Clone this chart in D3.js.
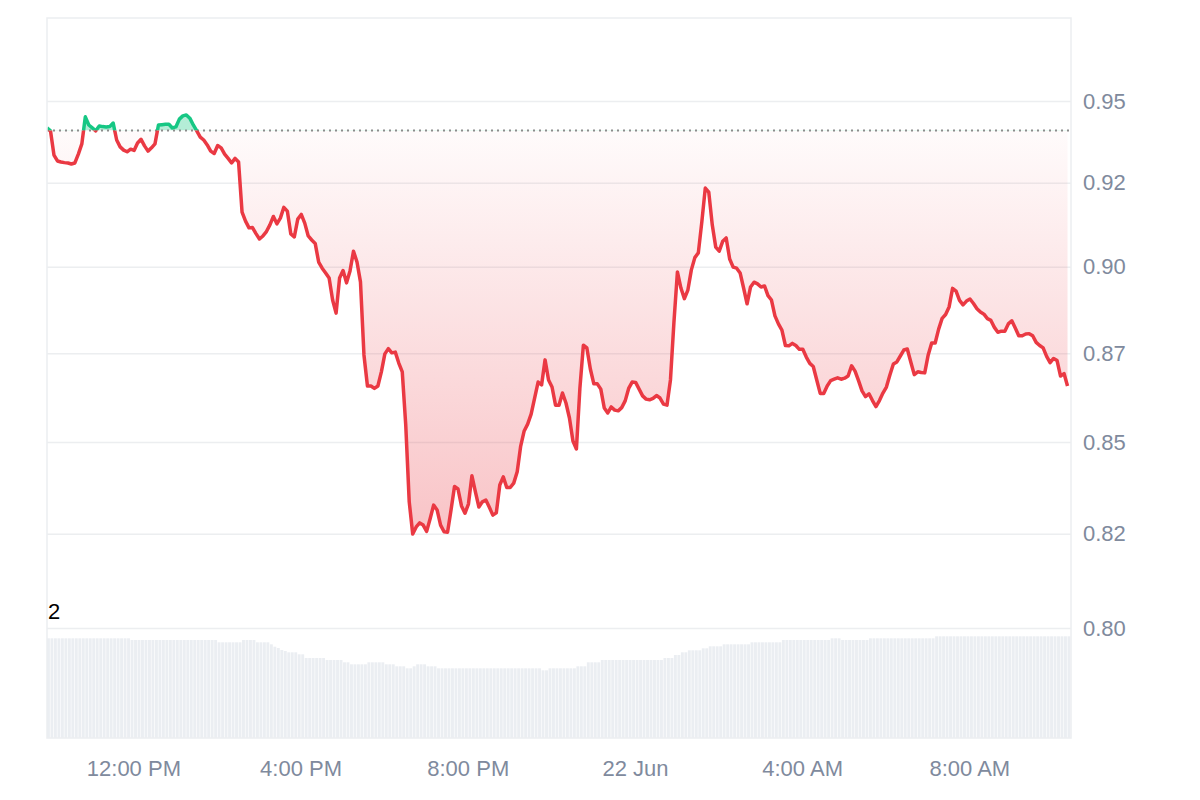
<!DOCTYPE html>
<html>
<head>
<meta charset="utf-8">
<script src="https://cdn.jsdelivr.net/npm/d3@7"></script>
<style>
  body { margin: 0; background: #fff; }
  svg { display: block; font-family: "Liberation Sans", Arial, sans-serif; }
</style>
</head>
<body>
<svg></svg>
<script>
// 5 minute points, 21 Jun 09:56 -> 22 Jun 10:26
var startTime = new Date(2024, 5, 21, 9, 56),
  stepMinutes = 5,
  openPrice = 0.9409; // price 24h ago, dotted reference line

var prices = [
  0.9417, 0.9408, 0.9334, 0.9316, 0.9313, 0.9311, 0.9310, 0.9307, 0.9310, 0.9337,
  0.9368, 0.9451, 0.9426, 0.9417, 0.9408, 0.9423, 0.9421, 0.9420, 0.9421, 0.9432,
  0.9380, 0.9359, 0.9349, 0.9344, 0.9352, 0.9348, 0.9371, 0.9382, 0.9362, 0.9346,
  0.9356, 0.9368, 0.9426, 0.9427, 0.9428, 0.9428, 0.9417, 0.9420, 0.9444, 0.9454,
  0.9457, 0.9447, 0.9426, 0.9408, 0.9389, 0.9380, 0.9365, 0.9346, 0.9339, 0.9363,
  0.9356, 0.9337, 0.9324, 0.9310, 0.9324, 0.9313, 0.9162, 0.9135, 0.9115, 0.9116,
  0.9098, 0.9082, 0.9091, 0.9104, 0.9124, 0.9149, 0.9127, 0.9144, 0.9176, 0.9165,
  0.9097, 0.9088, 0.9141, 0.9155, 0.9129, 0.9091, 0.9079, 0.9069, 0.9014, 0.8996,
  0.8982, 0.8967, 0.8903, 0.8865, 0.8967, 0.8989, 0.8953, 0.8988, 0.9046, 0.9014,
  0.8956, 0.8745, 0.8657, 0.8657, 0.8650, 0.8657, 0.8697, 0.8748, 0.8763, 0.8751,
  0.8753, 0.8722, 0.8697, 0.8547, 0.8336, 0.8249, 0.8268, 0.8279, 0.8273, 0.8256,
  0.8290, 0.8327, 0.8314, 0.8273, 0.8255, 0.8254, 0.8314, 0.8378, 0.8371, 0.8325,
  0.8305, 0.8330, 0.8407, 0.8363, 0.8322, 0.8336, 0.8341, 0.8321, 0.8300, 0.8306,
  0.8382, 0.8404, 0.8375, 0.8375, 0.8387, 0.8418, 0.8489, 0.8531, 0.8550, 0.8578,
  0.8623, 0.8668, 0.8660, 0.8731, 0.8674, 0.8654, 0.8603, 0.8603, 0.8637, 0.8609,
  0.8567, 0.8503, 0.8481, 0.8651, 0.8773, 0.8765, 0.8705, 0.8663, 0.8663, 0.8648,
  0.8595, 0.8581, 0.8598, 0.8589, 0.8587, 0.8596, 0.8615, 0.8650, 0.8668, 0.8667,
  0.8648, 0.8629, 0.8620, 0.8618, 0.8622, 0.8630, 0.8623, 0.8606, 0.8603, 0.8674,
  0.8839, 0.8985, 0.8938, 0.8907, 0.8932, 0.8991, 0.9027, 0.9041, 0.9132, 0.9234,
  0.9222, 0.9124, 0.9058, 0.9046, 0.9075, 0.9085, 0.9023, 0.8999, 0.8996, 0.8982,
  0.8938, 0.8892, 0.8941, 0.8955, 0.8950, 0.8941, 0.8944, 0.8916, 0.8903, 0.8857,
  0.8834, 0.8816, 0.8772, 0.8771, 0.8778, 0.8772, 0.8761, 0.8761, 0.8739, 0.8721,
  0.8712, 0.8674, 0.8636, 0.8636, 0.8657, 0.8672, 0.8676, 0.8680, 0.8676, 0.8679,
  0.8685, 0.8714, 0.8699, 0.8672, 0.8643, 0.8627, 0.8635, 0.8616, 0.8599, 0.8616,
  0.8637, 0.8654, 0.8688, 0.8719, 0.8725, 0.8742, 0.8759, 0.8762, 0.8725, 0.8689,
  0.8697, 0.8695, 0.8694, 0.8745, 0.8779, 0.8779, 0.8819, 0.8850, 0.8861, 0.8883,
  0.8937, 0.8929, 0.8902, 0.8889, 0.8900, 0.8906, 0.8893, 0.8878, 0.8868, 0.8862,
  0.8849, 0.8844, 0.8824, 0.8810, 0.8813, 0.8813, 0.8834, 0.8843, 0.8822, 0.8800,
  0.8800, 0.8805, 0.8806, 0.8800, 0.8781, 0.8772, 0.8765, 0.8741, 0.8723, 0.8735,
  0.8729, 0.8685, 0.8692, 0.8657
];

// rolling volume (relative units)
var volumes = [
  99.7, 99.7, 99.7, 99.7, 99.7, 99.7, 99.7, 99.7, 99.7, 99.7,
  99.7, 99.7, 99.7, 99.7, 99.7, 99.7, 99.7, 99.7, 99.7, 99.7,
  99.7, 99.7, 99.7, 99.7, 98, 98, 98, 98, 98, 98,
  98, 98, 98, 98, 98, 98, 98, 98, 98, 98,
  98, 98, 98, 98, 98, 98, 98, 98, 98, 95.7,
  95.7, 95.7, 95.7, 95.7, 95.7, 95.7, 98, 98, 98, 98,
  95.7, 95.7, 95.7, 95.7, 93.7, 91.3, 90, 88, 87, 85.7,
  85.7, 85.7, 83.7, 83.7, 80, 80, 80, 80, 80, 80,
  78, 78, 78, 78, 78, 75.7, 75.7, 73.7, 73.7, 73.7,
  73.7, 73.7, 75.7, 75.7, 75.7, 75.7, 75.7, 73.7, 73.7, 73.7,
  71.7, 71.7, 71.7, 69.7, 69.7, 71.7, 73.7, 73.7, 73.7, 71.7,
  71.7, 71.7, 69.7, 69.7, 69.7, 69.7, 69.7, 69.7, 69.7, 69.7,
  69.7, 69.7, 69.7, 69.7, 69.7, 69.7, 69.7, 69.7, 69.7, 69.7,
  69.7, 69.7, 69.7, 69.7, 69.7, 69.7, 69.7, 69.7, 69.7, 69.7,
  69.7, 69.7, 67.7, 67.7, 69.7, 69.7, 69.7, 69.7, 69.7, 69.7,
  69.7, 69.7, 71.7, 71.7, 71.7, 75.7, 75.7, 75.7, 75.7, 78,
  78, 78, 78, 78, 78, 78, 78, 78, 78, 78,
  78, 78, 78, 78, 78, 78, 78, 80, 80, 80,
  83, 83, 85.7, 85.7, 87.7, 87.7, 87.7, 87.7, 89.7, 89.7,
  91.7, 91.7, 91.7, 91.7, 93.7, 93.7, 93.7, 93.7, 93.7, 93.7,
  93.7, 93.7, 95.7, 95.7, 95.7, 95.7, 95.7, 95.7, 95.7, 95.7,
  95.7, 98, 98, 98, 98, 98, 98, 98, 98, 98,
  98, 98, 98, 98, 98, 99.7, 99.7, 99.7, 98, 98,
  98, 98, 98, 98, 98, 98, 99.7, 99.7, 99.7, 99.7,
  99.7, 99.7, 99.7, 99.7, 99.7, 99.7, 99.7, 99.7, 99.7, 99.7,
  99.7, 99.7, 99.7, 99.7, 99.7, 101.7, 101.7, 101.7, 101.7, 101.7,
  101.7, 101.7, 101.7, 101.7, 101.7, 101.7, 101.7, 101.7, 101.7, 101.7,
  101.7, 101.7, 101.7, 101.7, 101.7, 101.7, 101.7, 101.7, 101.7, 101.7,
  101.7, 101.7, 101.7, 101.7, 101.7, 101.7, 101.7, 101.7, 101.7, 101.7,
  101.7, 101.7, 101.7, 101.7
];

var yTicks = [0.80, 0.825, 0.85, 0.875, 0.90, 0.925, 0.95],
  yTickLabels = ["0.80", "0.82", "0.85", "0.87", "0.90", "0.92", "0.95"],
  volumeLabel = "2";

var width = 1200,
  height = 800,
  plotLeft = 47,
  plotRight = 1071,
  plotTop = 18,
  plotBottom = 738,
  up = "#16c784",
  down = "#ea3943",
  textColor = "#808a9d",
  gridColor = "#eceef0";

var svg = d3.select("svg").attr("width", width).attr("height", height);

var data = prices.map(function(p, i) {
  return { t: d3.timeMinute.offset(startTime, i * stepMinutes), p: p, v: volumes[i] };
});
var endTime = d3.timeMinute.offset(startTime, prices.length * stepMinutes);

var x = d3.scaleTime().domain([startTime, endTime]).range([plotLeft, plotRight]);
var y = d3.scaleLog().domain([0.80, 0.95]).range([628, 101]);
var yVol = d3.scaleLinear().domain([0, 100]).range([plotBottom, 638]);
var baseY = y(openPrice);
var step = x(data[1].t) - x(data[0].t);

var defs = svg.append("defs");
defs.append("clipPath").attr("id", "clip-up")
  .append("rect").attr("x", plotLeft).attr("y", 0)
  .attr("width", plotRight - plotLeft).attr("height", baseY);
defs.append("clipPath").attr("id", "clip-down")
  .append("rect").attr("x", plotLeft).attr("y", baseY)
  .attr("width", plotRight - plotLeft).attr("height", plotBottom - baseY);

var grad = defs.append("linearGradient").attr("id", "down-fill")
  .attr("gradientUnits", "userSpaceOnUse")
  .attr("x1", 0).attr("x2", 0)
  .attr("y1", baseY).attr("y2", y(d3.min(prices)));
grad.append("stop").attr("offset", 0).attr("stop-color", down).attr("stop-opacity", 0.02);
grad.append("stop").attr("offset", 1).attr("stop-color", down).attr("stop-opacity", 0.3);

// y axis + grid
svg.append("g")
  .attr("transform", "translate(" + plotRight + ",0)")
  .call(d3.axisRight(y)
    .tickValues(yTicks)
    .tickFormat(function(d, i) { return yTickLabels[i]; })
    .tickSize(-(plotRight - plotLeft))
    .tickPadding(12))
  .call(function(g) {
    g.select(".domain").remove();
    g.selectAll(".tick line").attr("stroke", gridColor).attr("stroke-width", 1.5);
    g.selectAll(".tick text").attr("fill", textColor).attr("font-size", 22)
      .attr("font-family", "'Liberation Sans', Arial, sans-serif");
  });

// x axis
svg.append("g")
  .attr("transform", "translate(0," + plotBottom + ")")
  .call(d3.axisBottom(x)
    .ticks(d3.timeHour.every(4))
    .tickFormat(function(d) {
      return d.getHours() === 0 ? d3.timeFormat("%-d %b")(d) : d3.timeFormat("%-I:%M %p")(d);
    })
    .tickSize(0)
    .tickPadding(22))
  .call(function(g) {
    g.select(".domain").remove();
    g.selectAll(".tick text").attr("fill", textColor).attr("font-size", 22)
      .attr("font-family", "'Liberation Sans', Arial, sans-serif");
  });

// volume bars
svg.append("g").selectAll("rect")
  .data(data)
  .enter()
  .append("rect")
  .attr("x", function(d) { return x(d.t); })
  .attr("width", step - 0.6)
  .attr("y", function(d) { return yVol(d.v); })
  .attr("height", function(d) { return plotBottom - yVol(d.v); })
  .attr("fill", "#ebeef2");

svg.append("text")
  .attr("x", 48)
  .attr("y", 619)
  .attr("font-size", 22)
  .attr("fill", "#000")
  .text(volumeLabel);

// fills between price and reference
var area = d3.area()
  .x(function(d) { return x(d.t); })
  .y0(baseY)
  .y1(function(d) { return y(d.p); });

svg.append("path").datum(data)
  .attr("clip-path", "url(#clip-up)")
  .attr("fill", up).attr("fill-opacity", 0.32)
  .attr("d", area);

svg.append("path").datum(data)
  .attr("clip-path", "url(#clip-down)")
  .attr("fill", "url(#down-fill)")
  .attr("d", area);

// reference line
svg.append("line")
  .attr("x1", plotLeft).attr("x2", plotRight)
  .attr("y1", baseY).attr("y2", baseY)
  .attr("stroke", "#8c8c8c")
  .attr("stroke-width", 2)
  .attr("stroke-dasharray", "2 4");

var line = d3.line()
  .x(function(d) { return x(d.t); })
  .y(function(d) { return y(d.p); });

svg.append("path").datum(data)
  .attr("clip-path", "url(#clip-up)")
  .attr("fill", "none").attr("stroke", up)
  .attr("stroke-width", 3.5).attr("stroke-linejoin", "round")
  .attr("d", line);

svg.append("path").datum(data)
  .attr("clip-path", "url(#clip-down)")
  .attr("fill", "none").attr("stroke", down)
  .attr("stroke-width", 3.5).attr("stroke-linejoin", "round")
  .attr("d", line);

// frame
svg.append("rect")
  .attr("x", plotLeft).attr("y", plotTop)
  .attr("width", plotRight - plotLeft).attr("height", plotBottom - plotTop)
  .attr("fill", "none")
  .attr("stroke", "#eceef1")
  .attr("stroke-width", 1.5);
</script>
</body>
</html>
